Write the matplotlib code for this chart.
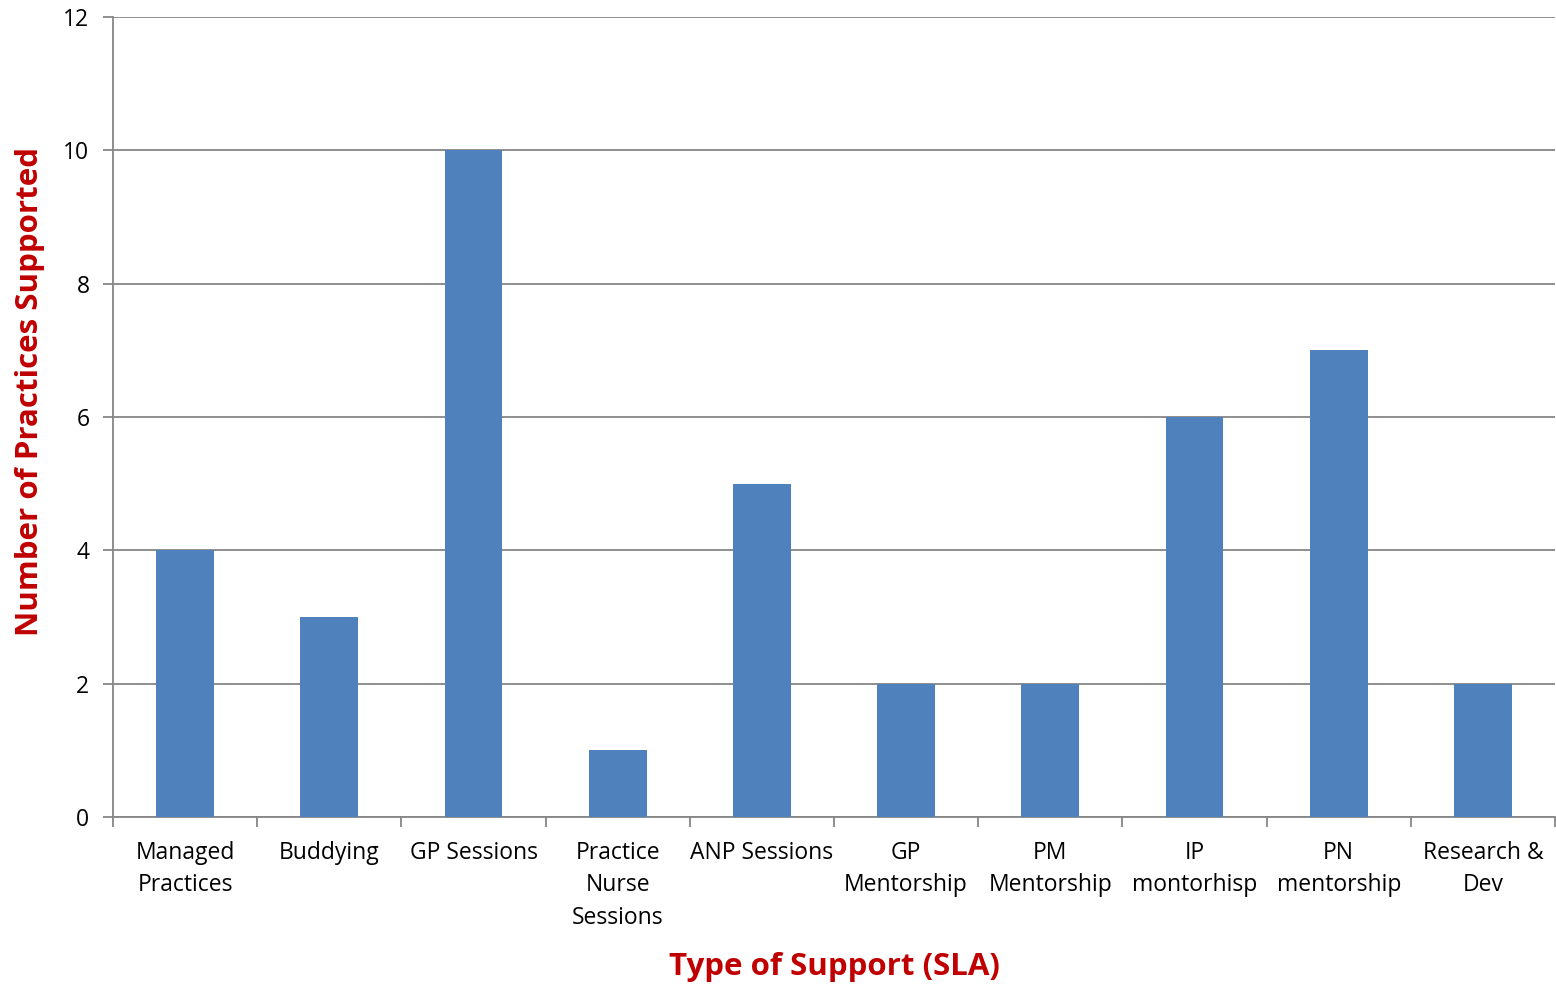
import matplotlib
matplotlib.use("Agg")
import matplotlib.pyplot as plt
import numpy as np

categories = ["Managed\nPractices", "Buddying", "GP Sessions", "Practice\nNurse\nSessions",
              "ANP Sessions", "GP\nMentorship", "PM\nMentorship", "IP\nmontorhisp",
              "PN\nmentorship", "Research &\nDev"]
values = [4, 3, 10, 1, 5, 2, 2, 6, 7, 2]
yticks = [0, 2, 4, 6, 8, 10, 12]

plt.rcParams['font.family'] = ['Open Sans', 'DejaVu Sans']

fig = plt.figure(figsize=(15.56, 9.84), dpi=100)
ax = fig.add_axes([113/1556, 1-817/984, (1555-113)/1556, (817-17)/984])

x = np.arange(len(categories))
ax.bar(x, values, width=0.4, color="#4F81BD", zorder=3)
ax.set_xlim(-0.5, len(categories)-0.5)
ax.set_ylim(0, 12)
ax.set_yticks(yticks)
ax.set_yticklabels([str(v) for v in yticks], fontsize=16.5)
ax.yaxis.grid(True, color="#868686", linewidth=1.3, zorder=0)
ax.set_axisbelow(True)

ax.set_xticks(np.arange(len(categories)+1) - 0.5)
ax.set_xticklabels([])
ax.set_xticks(x, minor=True)
ax.set_xticklabels(categories, minor=True, fontsize=16.5, linespacing=1.47, va="top")
ax.tick_params(axis="x", which="minor", length=0, pad=17)
ax.tick_params(axis="x", which="major", length=7, color="#868686", width=1.3)
ax.tick_params(axis="y", length=7, color="#868686", width=1.3, pad=10)

for s in ["top", "right"]:
    ax.spines[s].set_visible(False)
for s in ["left", "bottom"]:
    ax.spines[s].set_color("#868686")
    ax.spines[s].set_linewidth(1.3)

ax.set_xlabel("Type of Support (SLA)", fontsize=22.5, fontweight="bold", color="#C00000", labelpad=16)
ax.set_ylabel("Number of Practices Supported", fontsize=22.5, fontweight="bold", color="#C00000")
ax.yaxis.set_label_coords(-0.047, 0.5325)

fig.savefig("out.png", dpi=100)
